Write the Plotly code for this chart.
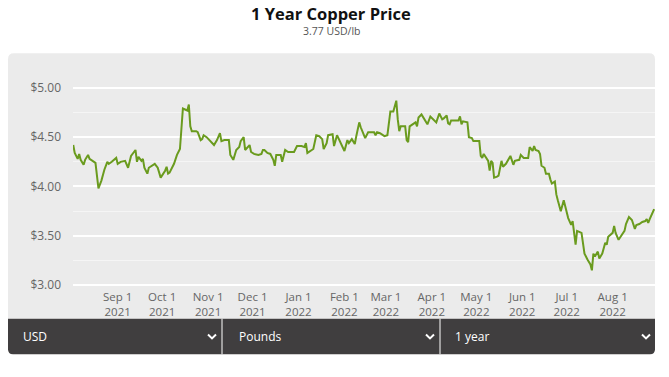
import plotly.graph_objects as go

# ---------------- data ----------------
dates = [
    "2021-08-02", "2021-08-03", "2021-08-05", "2021-08-06", "2021-08-07", "2021-08-09", "2021-08-10",
    "2021-08-12", "2021-08-13", "2021-08-15", "2021-08-17", "2021-08-19", "2021-08-21", "2021-08-23",
    "2021-08-25", "2021-08-26", "2021-08-28", "2021-08-31",
    "2021-09-01", "2021-09-03", "2021-09-06", "2021-09-08", "2021-09-10", "2021-09-13", "2021-09-14",
    "2021-09-15", "2021-09-17", "2021-09-18", "2021-09-19", "2021-09-21", "2021-09-22", "2021-09-26",
    "2021-09-28", "2021-09-30",
    "2021-10-03", "2021-10-04", "2021-10-05", "2021-10-06", "2021-10-09", "2021-10-11", "2021-10-13",
    "2021-10-15", "2021-10-17", "2021-10-18", "2021-10-19", "2021-10-20", "2021-10-21", "2021-10-24",
    "2021-10-25", "2021-10-27", "2021-10-28", "2021-10-29", "2021-10-31",
    "2021-11-02", "2021-11-03", "2021-11-05", "2021-11-07", "2021-11-09", "2021-11-10", "2021-11-12",
    "2021-11-15", "2021-11-16", "2021-11-18", "2021-11-20", "2021-11-22", "2021-11-23", "2021-11-25",
    "2021-11-26", "2021-11-29", "2021-11-30",
    "2021-12-02", "2021-12-05", "2021-12-07", "2021-12-08", "2021-12-09", "2021-12-11", "2021-12-13",
    "2021-12-15", "2021-12-16", "2021-12-17", "2021-12-20", "2021-12-21", "2021-12-23", "2021-12-25",
    "2021-12-29", "2021-12-31",
    "2022-01-03", "2022-01-05", "2022-01-06", "2022-01-07", "2022-01-10", "2022-01-11", "2022-01-13",
    "2022-01-15", "2022-01-17", "2022-01-18", "2022-01-20", "2022-01-21", "2022-01-24", "2022-01-25",
    "2022-01-27", "2022-01-30",
    "2022-02-01", "2022-02-03", "2022-02-04", "2022-02-06", "2022-02-08", "2022-02-09", "2022-02-11",
    "2022-02-12", "2022-02-14", "2022-02-15", "2022-02-17", "2022-02-19", "2022-02-21", "2022-02-22",
    "2022-02-23", "2022-02-25", "2022-02-28",
    "2022-03-02", "2022-03-04", "2022-03-06", "2022-03-08", "2022-03-09", "2022-03-10", "2022-03-11",
    "2022-03-14", "2022-03-15", "2022-03-16", "2022-03-17", "2022-03-19", "2022-03-21", "2022-03-22",
    "2022-03-23", "2022-03-25", "2022-03-27", "2022-03-29", "2022-03-31",
    "2022-04-02", "2022-04-04", "2022-04-06", "2022-04-08", "2022-04-09", "2022-04-11", "2022-04-12",
    "2022-04-13", "2022-04-14", "2022-04-19", "2022-04-20", "2022-04-21", "2022-04-22", "2022-04-25",
    "2022-04-26", "2022-04-28", "2022-04-29",
    "2022-05-03", "2022-05-04", "2022-05-05", "2022-05-06", "2022-05-08", "2022-05-09", "2022-05-10",
    "2022-05-11", "2022-05-12", "2022-05-13", "2022-05-15", "2022-05-16", "2022-05-18", "2022-05-19",
    "2022-05-21", "2022-05-23", "2022-05-24", "2022-05-26", "2022-05-27", "2022-05-30", "2022-05-31",
    "2022-06-02", "2022-06-05", "2022-06-06", "2022-06-08", "2022-06-09", "2022-06-10", "2022-06-12",
    "2022-06-13", "2022-06-14", "2022-06-16", "2022-06-17", "2022-06-19", "2022-06-20", "2022-06-21",
    "2022-06-23", "2022-06-24", "2022-06-25", "2022-06-27", "2022-06-29",
    "2022-07-01", "2022-07-02", "2022-07-04", "2022-07-05", "2022-07-07", "2022-07-08", "2022-07-11",
    "2022-07-13", "2022-07-15", "2022-07-17", "2022-07-18", "2022-07-19", "2022-07-20", "2022-07-22",
    "2022-07-23", "2022-07-25", "2022-07-27", "2022-07-28", "2022-07-29",
    "2022-08-01", "2022-08-02", "2022-08-03", "2022-08-05", "2022-08-07", "2022-08-09", "2022-08-10",
    "2022-08-12", "2022-08-14", "2022-08-16", "2022-08-17", "2022-08-19", "2022-08-21", "2022-08-23",
    "2022-08-24", "2022-08-25", "2022-08-26", "2022-08-29",
]

prices = [
    4.42, 4.34, 4.28, 4.33, 4.27, 4.22, 4.27,
    4.32, 4.28, 4.26, 4.24, 3.98, 4.06, 4.17,
    4.25, 4.23, 4.25, 4.29,
    4.23, 4.25, 4.26, 4.19, 4.31, 4.37, 4.25,
    4.30, 4.26, 4.28, 4.19, 4.13, 4.19, 4.23,
    4.19, 4.09,
    4.16, 4.20, 4.13, 4.14, 4.23, 4.32, 4.38,
    4.79, 4.78, 4.77, 4.83, 4.61, 4.56, 4.56,
    4.55, 4.47, 4.48, 4.52, 4.50,
    4.47, 4.45, 4.42, 4.47, 4.54, 4.46, 4.47,
    4.47, 4.32, 4.27, 4.37, 4.40, 4.46, 4.50,
    4.37, 4.42, 4.35,
    4.33, 4.32, 4.33, 4.37, 4.37, 4.34, 4.33,
    4.27, 4.21, 4.32, 4.32, 4.25, 4.37, 4.35,
    4.35, 4.41,
    4.41, 4.40, 4.44, 4.34, 4.37, 4.38, 4.52,
    4.51, 4.48, 4.38, 4.44, 4.52, 4.53, 4.41,
    4.52, 4.42,
    4.36, 4.47, 4.44, 4.48, 4.43, 4.51, 4.65,
    4.60, 4.52, 4.49, 4.55, 4.55, 4.55, 4.52,
    4.55, 4.54, 4.51,
    4.52, 4.76, 4.76, 4.87, 4.68, 4.56, 4.61,
    4.61, 4.47, 4.45, 4.61, 4.63, 4.65, 4.61,
    4.70, 4.73, 4.68, 4.63, 4.71,
    4.68, 4.65, 4.74, 4.68, 4.69, 4.72, 4.64,
    4.63, 4.67, 4.67, 4.71, 4.63, 4.66, 4.65,
    4.50, 4.49, 4.46,
    4.46, 4.31, 4.29, 4.33, 4.29, 4.26, 4.16,
    4.26, 4.24, 4.09, 4.10, 4.11, 4.26, 4.20,
    4.23, 4.28, 4.31, 4.22, 4.26, 4.27, 4.32,
    4.29, 4.29, 4.40, 4.36, 4.41, 4.37, 4.36,
    4.33, 4.21, 4.19, 4.13, 4.13, 4.07, 4.03,
    4.05, 3.92, 3.86, 3.75, 3.86,
    3.74, 3.68, 3.61, 3.65, 3.41, 3.55, 3.53,
    3.32, 3.26, 3.21, 3.15, 3.32, 3.29, 3.34,
    3.27, 3.32, 3.43, 3.41, 3.49,
    3.53, 3.60, 3.53, 3.46, 3.51, 3.55, 3.62,
    3.69, 3.66, 3.57, 3.61, 3.62, 3.64, 3.65,
    3.67, 3.63, 3.67, 3.77,
]

tick_dates = ["2021-09-01", "2021-10-01", "2021-11-01", "2021-12-01", "2022-01-01", "2022-02-01",
              "2022-03-01", "2022-04-01", "2022-05-01", "2022-06-01", "2022-07-01", "2022-08-01"]
tick_labels = ["Sep 1<br>2021", "Oct 1<br>2021", "Nov 1<br>2021", "Dec 1<br>2021", "Jan 1<br>2022",
               "Feb 1<br>2022", "Mar 1<br>2022", "Apr 1<br>2022", "May 1<br>2022", "Jun 1<br>2022",
               "Jul 1<br>2022", "Aug 1<br>2022"]
y_ticks = [3.0, 3.5, 4.0, 4.5, 5.0]
y_labels = ["$3.00", "$3.50", "$4.00", "$4.50", "$5.00"]

title_text = "1 Year Copper Price"
subtitle_text = "3.77 USD/lb"
selectors = ["USD", "Pounds", "1 year"]

# ---------------- layout geometry (page pixels) ----------------
W, H = 669, 377
FONT = "Open Sans"


def px(x):
    return x / W


def py(y):
    return 1 - y / H


plot_l, plot_r = 73, 655
plot_t, plot_b = 80, 292

panel_l, panel_r = 8, 655
panel_t, bar_t, bar_b = 54, 323, 359
R = 6


def rounded_path(x0, y0, x1, y1, r_top, r_bot):
    pts = []
    pts.append(f"M {px(x0 + r_top)} {py(y0)}")
    pts.append(f"L {px(x1 - r_top)} {py(y0)}")
    pts.append(f"Q {px(x1)} {py(y0)} {px(x1)} {py(y0 + r_top)}")
    pts.append(f"L {px(x1)} {py(y1 - r_bot)}")
    pts.append(f"Q {px(x1)} {py(y1)} {px(x1 - r_bot)} {py(y1)}")
    pts.append(f"L {px(x0 + r_bot)} {py(y1)}")
    pts.append(f"Q {px(x0)} {py(y1)} {px(x0)} {py(y1 - r_bot)}")
    pts.append(f"L {px(x0)} {py(y0 + r_top)}")
    pts.append(f"Q {px(x0)} {py(y0)} {px(x0 + r_top)} {py(y0)}")
    pts.append("Z")
    return " ".join(pts)


shapes = [
    dict(type="path", xref="paper", yref="paper", layer="below",
         path=rounded_path(panel_l, panel_t, panel_r, bar_t, R, 0),
         fillcolor="#ebebeb", line=dict(width=0)),
    dict(type="path", xref="paper", yref="paper", layer="below",
         path=rounded_path(panel_l, bar_t, panel_r, bar_b, 0, 5),
         fillcolor="#403e3f", line=dict(width=0)),
]
for sx in [222, 440]:
    shapes.append(dict(type="line", xref="paper", yref="paper",
                       x0=px(sx), x1=px(sx), y0=py(bar_t), y1=py(bar_b),
                       line=dict(color="white", width=1)))

annotations = [
    dict(text=f"<b>{title_text}</b>", x=px(331), y=py(14), xref="paper", yref="paper",
         showarrow=False, font=dict(family=FONT, size=16.5, color="#111111"),
         xanchor="center", yanchor="middle", borderpad=0),
    dict(text=subtitle_text, x=px(331), y=py(31), xref="paper", yref="paper",
         showarrow=False, font=dict(family=FONT, size=10.5, color="#555555"),
         xanchor="center", yanchor="middle", borderpad=0),
]
sel_x = [21, 237, 453]
chev_x = [212, 430, 646]
for label, sx, cx in zip(selectors, sel_x, chev_x):
    annotations.append(dict(text=label, x=px(sx), y=py(341), xref="paper", yref="paper",
                            showarrow=False, font=dict(family=FONT, size=12, color="white"),
                            xanchor="left", yanchor="middle"))
    shapes.append(dict(type="path", xref="paper", yref="paper",
                       path=f"M {px(cx - 4)} {py(339)} L {px(cx)} {py(343)} L {px(cx + 4)} {py(339)}",
                       line=dict(color="white", width=2)))

fig = go.Figure()
fig.add_trace(go.Scatter(
    x=dates, y=prices, mode="lines",
    line=dict(color="#6a9b1e", width=2),
    hoverinfo="skip", showlegend=False,
))

fig.update_layout(
    width=W, height=H,
    margin=dict(l=0, r=0, t=0, b=0),
    paper_bgcolor="white",
    plot_bgcolor="rgba(0,0,0,0)",
    shapes=shapes,
    annotations=annotations,
    font=dict(family=FONT, color="#666666"),
    xaxis=dict(
        domain=[px(plot_l), px(plot_r)],
        type="date",
        range=["2021-08-01 20:00", "2022-08-29 14:00"],
        tickmode="array", tickvals=tick_dates, ticktext=tick_labels,
        showgrid=False, zeroline=False, showline=False, ticks="",
        tickfont=dict(family=FONT, size=11.5, color="#666666"),
    ),
    yaxis=dict(
        domain=[py(plot_b), py(plot_t)],
        range=[3 - (plot_b - 289) / 100, 5 + (89 - plot_t) / 100],
        tickmode="array", tickvals=y_ticks, ticktext=y_labels,
        showgrid=True, gridcolor="white", gridwidth=1.5,
        minor=dict(dtick=0.25, tick0=3.0, showgrid=True, gridcolor="#f5f5f5", gridwidth=1),
        zeroline=False, showline=False, ticks="",
        tickfont=dict(family=FONT, size=12, color="#666666"),
        ticklabelstandoff=11,
    ),
)

fig.write_html(
    "out.html",
    config={"displayModeBar": False},
    post_script="document.body.style.margin='0px';document.body.style.overflow='hidden';",
)
